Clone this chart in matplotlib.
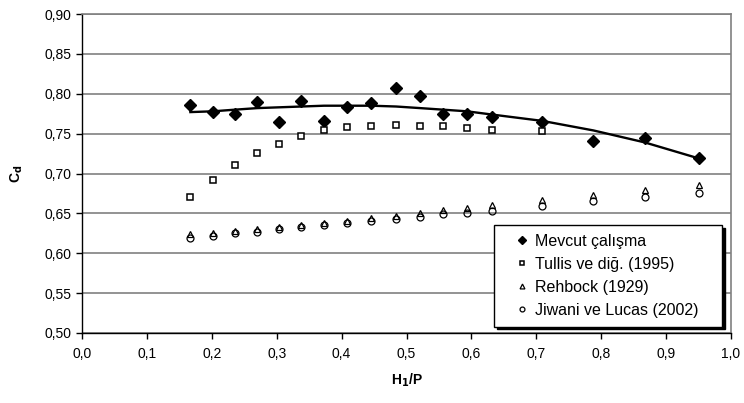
import matplotlib.pyplot as plt
from matplotlib.ticker import FuncFormatter

plt.rcParams['font.family'] = ['Liberation Sans', 'DejaVu Sans']

# H1/P values
x_all = [0.167, 0.202, 0.235, 0.270, 0.304, 0.338, 0.373, 0.409, 0.446,
         0.484, 0.521, 0.557, 0.593, 0.631, 0.709, 0.788, 0.867, 0.950]

mevcut = [0.786, 0.777, 0.775, 0.790, 0.765, 0.791, 0.766, 0.784, 0.789,
          0.807, 0.797, 0.774, 0.775, 0.771, 0.764, 0.741, 0.745, 0.719]
mevcut_fit = [0.777, 0.778, 0.780, 0.782, 0.783, 0.784, 0.785, 0.785, 0.785,
              0.784, 0.782, 0.780, 0.778, 0.774, 0.766, 0.754, 0.739, 0.719]

x_tullis = x_all[:15]
tullis = [0.670, 0.692, 0.711, 0.726, 0.737, 0.747, 0.754, 0.758, 0.760,
          0.761, 0.760, 0.759, 0.757, 0.754, 0.753]

rehbock = [0.624, 0.626, 0.628, 0.631, 0.633, 0.636, 0.638, 0.641, 0.644,
           0.647, 0.651, 0.654, 0.657, 0.660, 0.667, 0.673, 0.679, 0.686]
jiwani = [0.619, 0.622, 0.625, 0.627, 0.630, 0.633, 0.635, 0.638, 0.641,
          0.643, 0.646, 0.649, 0.651, 0.653, 0.659, 0.665, 0.671, 0.676]

fig = plt.figure(figsize=(7.44, 4.03), dpi=100)
ax = fig.add_axes([82 / 744, 1 - 333 / 403, (731 - 82) / 744, (333 - 14) / 403])

ax.plot(x_all, mevcut_fit, color='black', lw=1.7, zorder=3)
ax.plot(x_all, mevcut, linestyle='none', marker='D', ms=6.5, color='black',
        label='Mevcut çalışma', zorder=4)
ax.plot(x_tullis, tullis, linestyle='none', marker='s', ms=5, mfc='white',
        mec='black', mew=1.1, label='Tullis ve diğ. (1995)', zorder=4)
ax.plot(x_all, rehbock, linestyle='none', marker='^', ms=5, mfc='none',
        mec='black', mew=0.9, label='Rehbock (1929)', zorder=4)
ax.plot(x_all, jiwani, linestyle='none', marker='o', ms=5, mfc='none',
        mec='black', mew=0.9, label='Jiwani ve Lucas (2002)', zorder=4)

ax.set_xlim(0, 1.0)
ax.set_ylim(0.5, 0.9)
ax.set_xticks([i / 10 for i in range(11)])
ax.set_yticks([0.5 + i * 0.05 for i in range(9)])
ax.xaxis.set_major_formatter(FuncFormatter(lambda v, p: f'{v:.1f}'.replace('.', ',')))
ax.yaxis.set_major_formatter(FuncFormatter(lambda v, p: f'{v:.2f}'.replace('.', ',')))
ax.tick_params(direction='out', length=4, width=1, labelsize=10, colors='black')
ax.tick_params(axis='x', pad=6)

ax.yaxis.grid(True, color='#808080', lw=1.2)
ax.set_axisbelow(True)
for s in ['left', 'bottom']:
    ax.spines[s].set_color('black')
    ax.spines[s].set_linewidth(1)
for s in ['top', 'right']:
    ax.spines[s].set_color('#808080')
    ax.spines[s].set_linewidth(1.2)

ax.set_xlabel('H$_\\mathbf{1}$/P', fontsize=10, fontweight='bold', labelpad=8)
ax.set_ylabel('C$_\\mathbf{d}$', fontsize=10, fontweight='bold', labelpad=14)

# legend box placed where it sits in the original
lx0 = (494 - 82) / 649
lw = (722 - 494) / 649
ly0 = (333 - 325) / 319
lh = (325 - 225) / 319
leg = ax.legend(loc='upper left', bbox_to_anchor=(lx0, ly0, lw, lh), mode='expand',
                fontsize=11.5, frameon=True, fancybox=False, edgecolor='black',
                shadow={'color': 'black', 'alpha': 1}, handlelength=2.4,
                handletextpad=-0.4, borderpad=0.55, labelspacing=0.5,
                borderaxespad=0, markerscale=0.7)
leg.get_frame().set_linewidth(1)

fig.savefig('out.png', dpi=100)
